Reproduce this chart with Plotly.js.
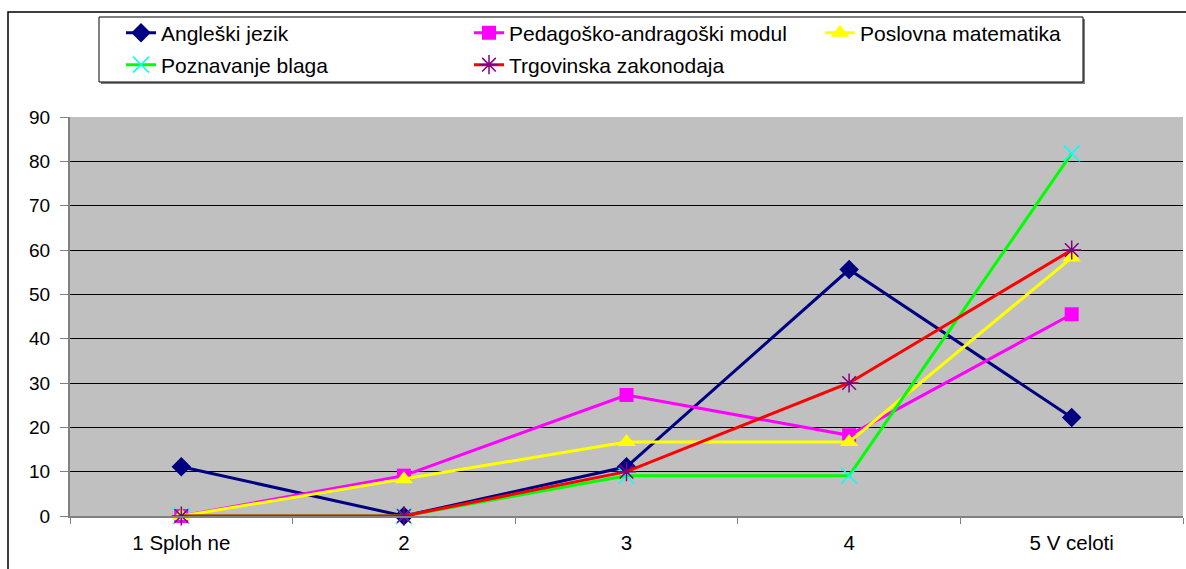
<!DOCTYPE html>
<html>
<head>
<meta charset="utf-8">
<script src="https://cdn.plot.ly/plotly-3.0.1.min.js"></script>
<style>html,body{margin:0;padding:0;background:#fff;}#chart{width:1186px;height:569px;}</style>
</head>
<body>
<div id="chart"></div>
<script>
const categories = ["1 Sploh ne", "2", "3", "4", "5 V celoti"];
const seriesNames = ["Angleški jezik", "Pedagoško-andragoški modul", "Poslovna matematika", "Poznavanje blaga", "Trgovinska zakonodaja"];
const angleski = [11.1, 0, 11.1, 55.6, 22.2];
const pedagosko = [0, 9.1, 27.3, 18.2, 45.5];
const poslovna = [0, 8.3, 16.7, 16.7, 58.3];
const poznavanje = [0, 0, 9.1, 9.1, 81.8];
const trgovinska = [0, 0, 10, 30, 60];
const yTicks = [0, 10, 20, 30, 40, 50, 60, 70, 80, 90];

const W = 1186, H = 569;
const M = {l: 70, r: 3, t: 117, b: 53, autoexpand: false};
const pw = W - M.l - M.r, ph = H - M.t - M.b;
const px2x = x => (x - M.l) / pw;
const px2y = y => (H - M.b - y) / ph;

function tr(name, y, lineColor, symbol, mColor, mSize, mLine, legend) {
  return {
    type: 'scatter', mode: 'lines+markers', name: name, x: categories, y: y,
    line: {color: lineColor, width: 3},
    marker: {symbol: symbol, color: mColor, size: mSize, line: mLine},
    cliponaxis: false,
    legend: legend
  };
}

const data = [
  tr(seriesNames[0], angleski, '#000080', 'diamond', '#000080', 15, {width: 0}, 'legend'),
  tr(seriesNames[1], pedagosko, '#FF00FF', 'square', '#FF00FF', 14, {width: 0}, 'legend2'),
  tr(seriesNames[2], poslovna, '#FFFF00', 'triangle-up', '#FFFF00', 16, {width: 0}, 'legend3'),
  tr(seriesNames[3], poznavanje, '#00FF00', 'x-thin-open', '#00FFFF', 16, {width: 1.5, color: '#00FFFF'}, 'legend4'),
  tr(seriesNames[4], trgovinska, '#FF0000', 'asterisk-open', '#800080', 16, {width: 1.5, color: '#800080'}, 'legend5')
];

function leg(textX, rowY) {
  return {
    orientation: 'v', xanchor: 'left', yanchor: 'middle',
    x: px2x(textX - 40), y: px2y(rowY),
    bgcolor: 'rgba(0,0,0,0)', borderwidth: 0,
    font: {family: 'Liberation Sans, Arial, sans-serif', size: 21, color: '#000'},
    itemclick: false
  };
}

const layout = {
  width: W, height: H,
  margin: M,
  paper_bgcolor: '#ffffff',
  plot_bgcolor: '#C0C0C0',
  font: {family: 'Liberation Sans, Arial, sans-serif', size: 18, color: '#000'},
  showlegend: true,
  legend: leg(161, 33),
  legend2: leg(509, 33),
  legend3: leg(860, 33),
  legend4: leg(161, 65),
  legend5: leg(509, 65),
  xaxis: {
    type: 'category', range: [-0.5, 4.5],
    showgrid: false, zeroline: false,
    showline: true, linecolor: '#808080', linewidth: 2,
    ticks: 'outside', tickson: 'boundaries', ticklen: 6, tickcolor: '#808080', tickwidth: 1,
    ticklabelstandoff: 7,
    tickfont: {size: 20.5, color: '#000'}
  },
  yaxis: {
    range: [0, 90], tickvals: yTicks, ticktext: yTicks.map(String),
    showgrid: true, gridcolor: '#000000', gridwidth: 1,
    zeroline: false,
    showline: true, linecolor: '#808080', linewidth: 2,
    ticks: 'outside', ticklen: 8, tickcolor: '#808080', tickwidth: 1,
    ticklabelstandoff: 6,
    tickfont: {size: 19, color: '#000'}
  },
  shapes: [
    {type: 'rect', xref: 'paper', yref: 'paper', x0: px2x(8), x1: px2x(1200), y0: px2y(600), y1: px2y(12),
      line: {color: '#000', width: 1.5}, fillcolor: 'rgba(0,0,0,0)', layer: 'above'},
    {type: 'rect', xref: 'paper', yref: 'paper', x0: px2x(101), x1: px2x(1085), y0: px2y(84), y1: px2y(19),
      line: {width: 0}, fillcolor: '#808080', layer: 'above'},
    {type: 'rect', xref: 'paper', yref: 'paper', x0: px2x(99), x1: px2x(1083), y0: px2y(82), y1: px2y(17),
      line: {color: '#000', width: 1}, fillcolor: '#ffffff', layer: 'above'}
  ]
};

Plotly.newPlot('chart', data, layout, {displayModeBar: false, staticPlot: true});
</script>
</body>
</html>
